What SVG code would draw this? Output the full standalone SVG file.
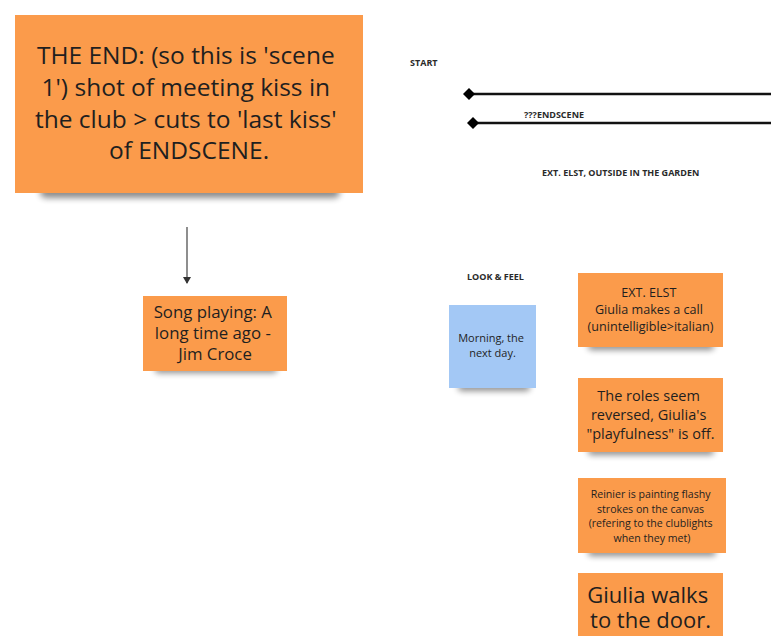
<svg xmlns="http://www.w3.org/2000/svg" width="771" height="636" viewBox="0 0 771 636">
<defs>
<style>
.note{fill:#fb9b4b}
.blue{fill:#a3c8f5}
.t{font-family:"Open Sans","Liberation Sans",sans-serif;fill:#1f1f1f;text-anchor:middle}
.lbl{font-family:"Open Sans","Liberation Sans",sans-serif;font-weight:bold;fill:#2a2a2a;font-size:9px}
.sh{fill:#000;opacity:0.45;filter:url(#blur)}
.line{stroke:#111;stroke-width:2.5;fill:none}
</style>
<filter id="blur" x="-20%" y="-100%" width="140%" height="300%"><feGaussianBlur stdDeviation="3"/></filter>
<marker id="arr" markerWidth="8" markerHeight="8" refX="6" refY="4" orient="auto" markerUnits="userSpaceOnUse"><path d="M0,0 L7,4 L0,8 Z" fill="#333"/></marker>
<marker id="dia" markerWidth="14" markerHeight="14" refX="7" refY="7" orient="auto" markerUnits="userSpaceOnUse"><path d="M1,7 L7,1 L13,7 L7,13 Z" fill="#000"/></marker>
</defs>

<g id="connectors">
<line x1="187" y1="227" x2="187" y2="283" stroke="#444" stroke-width="1.2" marker-end="url(#arr)"/>
<line class="line" x1="469" y1="94" x2="771" y2="94" marker-start="url(#dia)"/>
<line class="line" x1="473" y1="123" x2="771" y2="123" marker-start="url(#dia)"/>
</g>

<g id="labels">
<text class="lbl" x="410" y="66">START</text>
<text class="lbl" x="524" y="118" font-size="8">???ENDSCENE</text>
<text class="lbl" x="542" y="176">EXT. ELST, OUTSIDE IN THE GARDEN</text>
<text class="lbl" x="467" y="280" font-weight="normal" fill="#555" font-size="8.5">LOOK &amp; FEEL</text>
</g>

<g id="the-end">
<rect class="sh" x="40" y="186" width="300" height="12" rx="6"/>
<rect class="note" x="15" y="15" width="348" height="178"/>
<text class="t" font-size="24.5">
<tspan x="189" y="64">THE END: (so this is 'scene</tspan>
<tspan x="189" y="96">1') shot of meeting kiss in</tspan>
<tspan x="189" y="128">the club &gt; cuts to 'last kiss'</tspan>
<tspan x="189" y="159">of ENDSCENE.</tspan>
</text>
</g>

<g id="song">
<rect class="sh" x="155" y="365" width="122" height="8" rx="4"/>
<rect class="note" x="143" y="296" width="144" height="75"/>
<text class="t" font-size="16.8">
<tspan x="215" y="318">Song playing:  A</tspan>
<tspan x="215" y="339">long time ago -</tspan>
<tspan x="215" y="360">Jim Croce</tspan>
</text>
</g>

<g id="morning">
<rect class="sh" x="458" y="383" width="72" height="8" rx="4"/>
<rect class="blue" x="449" y="305" width="87" height="83"/>
<text class="t" font-size="11">
<tspan x="492.5" y="342">Morning, the</tspan>
<tspan x="492.5" y="357">next day.</tspan>
</text>
</g>

<g id="ext-elst">
<rect class="sh" x="588" y="342" width="126" height="8" rx="4"/>
<rect class="note" x="578" y="273" width="145" height="74"/>
<text class="t" font-size="12.6">
<tspan x="650.5" y="297">EXT. ELST</tspan>
<tspan x="650.5" y="314">Giulia makes a call</tspan>
<tspan x="650.5" y="331">(unintelligible&gt;italian)</tspan>
</text>
</g>

<g id="roles">
<rect class="sh" x="588" y="447" width="126" height="8" rx="4"/>
<rect class="note" x="578" y="378" width="145" height="74"/>
<text class="t" font-size="14.5">
<tspan x="650.5" y="401">The roles seem</tspan>
<tspan x="650.5" y="420">reversed, Giulia's</tspan>
<tspan x="650.5" y="439">"playfulness" is off.</tspan>
</text>
</g>

<g id="reinier">
<rect class="sh" x="588" y="548" width="128" height="8" rx="4"/>
<rect class="note" x="578" y="478" width="148" height="75"/>
<text class="t" font-size="10.6">
<tspan x="652" y="498">Reinier is painting flashy</tspan>
<tspan x="652" y="512.5">strokes on the canvas</tspan>
<tspan x="652" y="527">(refering to the clublights</tspan>
<tspan x="652" y="541.5">when they met)</tspan>
</text>
</g>

<g id="walks">
<rect class="note" x="578" y="573" width="145" height="70"/>
<text class="t" font-size="22">
<tspan x="650.5" y="603">Giulia walks</tspan>
<tspan x="650.5" y="628">to the door.</tspan>
</text>
</g>
</svg>
